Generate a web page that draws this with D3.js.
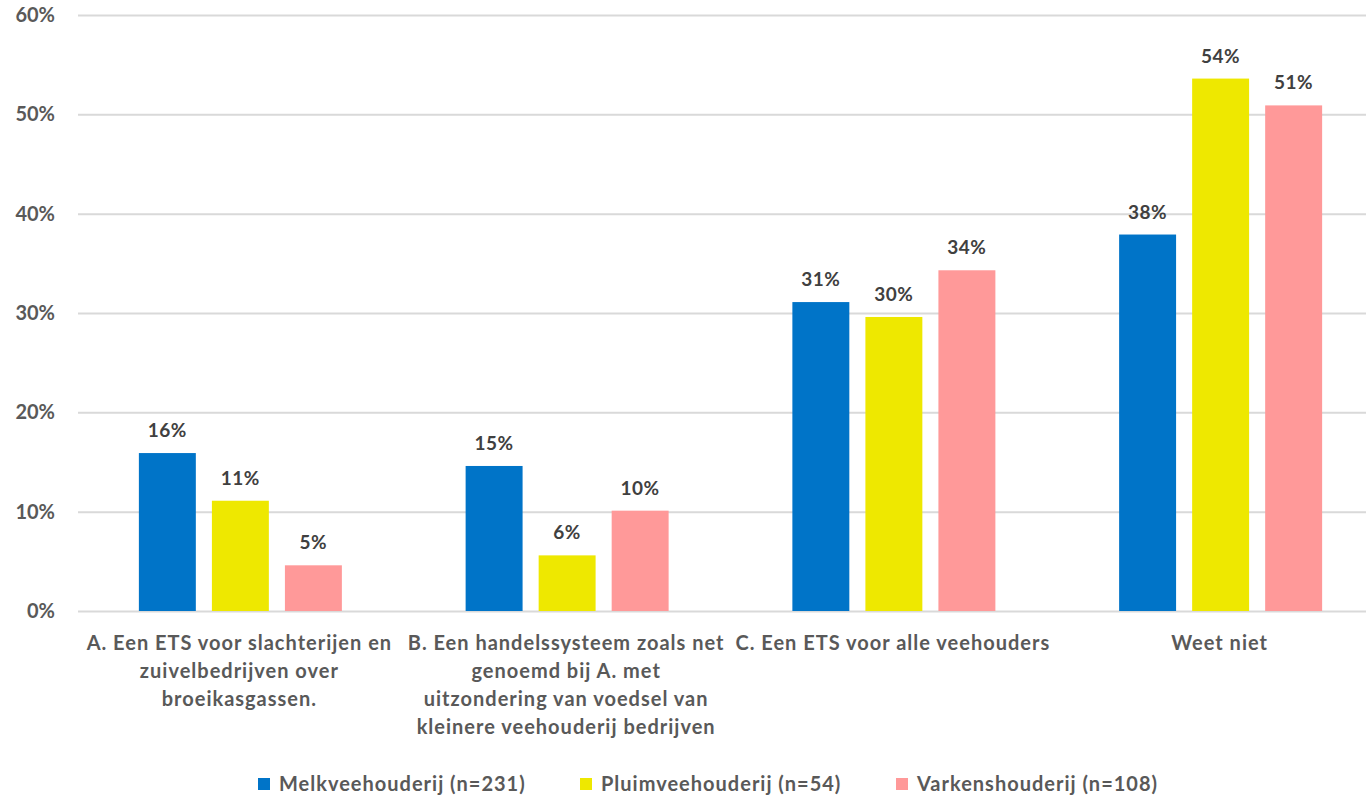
<!DOCTYPE html>
<html>
<head>
<meta charset="utf-8">
<script src="https://cdn.jsdelivr.net/npm/d3@7"></script>
<style>
  body { margin: 0; background: #fff; }
  svg { display: block; }
  text { font-family: Lato, "Open Sans", sans-serif; font-weight: 700; }
</style>
</head>
<body>
<svg id="chart"></svg>
<script>
// chart data
const categories = [
    ['A. Een ETS voor slachterijen en', 'zuivelbedrijven over', 'broeikasgassen.'],
    ['B. Een handelssysteem zoals net', 'genoemd bij A. met', 'uitzondering van voedsel van', 'kleinere veehouderij bedrijven'],
    ['C. Een ETS voor alle veehouders'],
    ['Weet niet'],
];
const seriesNames = ['Melkveehouderij (n=231)', 'Pluimveehouderij (n=54)', 'Varkenshouderij (n=108)'];
const seriesColors = ['#0074C8', '#EEE800', '#FF9999'];
const melk = [15.9, 14.6, 31.1, 37.9];
const pluim = [11.1, 5.6, 29.6, 53.6];
const varken = [4.6, 10.1, 34.3, 50.9];
const labels = [
    ['16%', '11%', '5%'],
    ['15%', '6%', '10%'],
    ['31%', '30%', '34%'],
    ['38%', '54%', '51%'],
];
const yTicks = [0, 10, 20, 30, 40, 50, 60];

const width = 1366;
const height = 796;
const series = [melk, pluim, varken];

const svg = d3
    .select('#chart')
    .attr('width', width)
    .attr('height', height);

const y = d3.scaleLinear().domain([0, 60]).range([611, 15]);
const x = d3
    .scaleBand()
    .domain(d3.range(categories.length))
    .range([76, 1383])
    .padding(0);
const groupW = 203;
const xInner = d3
    .scaleBand()
    .domain(d3.range(series.length))
    .range([0, groupW])
    .paddingInner(0.22);

// grid lines + y labels
const yAxis = d3
    .axisLeft(y)
    .tickValues(yTicks)
    .tickSize(-(width - 78))
    .tickFormat((d) => d + '%');
const gy = svg.append('g').attr('transform', 'translate(78,0)').call(yAxis);
gy.select('.domain').remove();
gy.selectAll('.tick line').attr('stroke', '#D9D9D9').attr('stroke-width', 2);
gy.selectAll('.tick text')
    .attr('x', -23)
    .attr('fill', '#595959')
    .style('font-size', '20px');

// bars
const groups = svg
    .selectAll('g.group')
    .data(categories)
    .enter()
    .append('g')
    .attr('class', 'group')
    .attr('transform', (d, i) => `translate(${x(i) + (x.bandwidth() - groupW) / 2 + 1},0)`);

groups.each(function(cat, ci) {
    const g = d3.select(this);
    series.forEach((vals, si) => {
        g.append('rect')
            .attr('x', xInner(si))
            .attr('y', y(vals[ci]))
            .attr('width', xInner.bandwidth())
            .attr('height', y(0) - y(vals[ci]))
            .attr('fill', seriesColors[si]);
        g.append('text')
            .attr('x', xInner(si) + xInner.bandwidth() / 2)
            .attr('y', y(vals[ci]) - 16)
            .attr('text-anchor', 'middle')
            .attr('fill', '#404040')
            .style('font-size', '19px')
            .style('letter-spacing', '0.5px')
            .text(labels[ci][si]);
    });
});

// category labels
const catLabels = svg
    .selectAll('text.cat')
    .data(categories)
    .enter()
    .append('text')
    .attr('class', 'cat')
    .attr('text-anchor', 'middle')
    .attr('fill', '#595959')
    .style('font-size', '20px')
    .style('letter-spacing', '1px');
catLabels
    .selectAll('tspan')
    .data((d, i) => d.map((line) => ({ line, i })))
    .enter()
    .append('tspan')
    .attr('x', (d) => x(d.i) + x.bandwidth() / 2)
    .attr('y', (d, j) => 650 + j * 28)
    .text((d) => d.line);

// legend
const legendX = [258, 580, 896];
const legend = svg
    .selectAll('g.legend')
    .data(seriesNames)
    .enter()
    .append('g')
    .attr('class', 'legend')
    .attr('transform', (d, i) => `translate(${legendX[i]},778)`);
legend
    .append('rect')
    .attr('width', 12)
    .attr('height', 12)
    .attr('fill', (d, i) => seriesColors[i]);
legend
    .append('text')
    .attr('x', 21)
    .attr('y', 13)
    .attr('fill', '#595959')
    .style('font-size', '20px')
    .style('letter-spacing', '1px')
    .text((d) => d);
</script>
</body>
</html>
